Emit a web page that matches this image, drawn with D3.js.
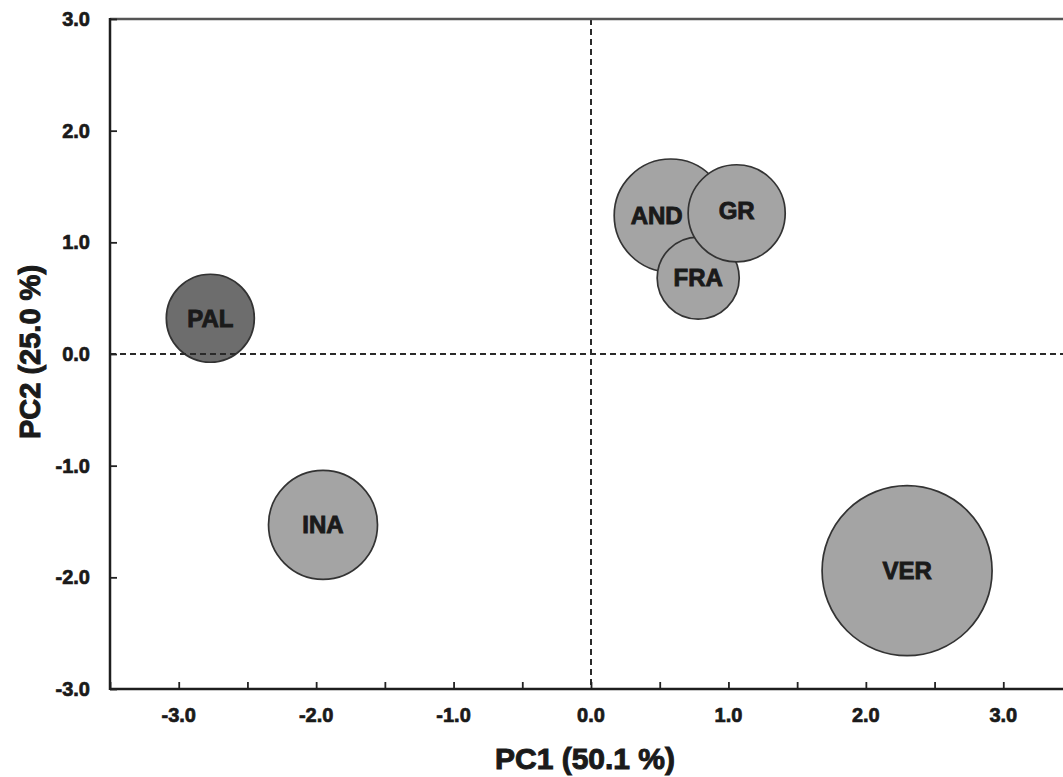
<!DOCTYPE html>
<html>
<head>
<meta charset="utf-8">
<script src="https://cdn.jsdelivr.net/npm/d3@7"></script>
<style>
  body { margin: 0; background: #fff; }
  text { font-family: "Liberation Sans", Arial, sans-serif; font-weight: bold; fill: #1a1a1a; stroke: #1a1a1a; }
</style>
</head>
<body>
<script>
// PCA scores, drawn in this order (AND under FRA under GR)
var groups = ["PAL", "INA", "AND", "FRA", "GR", "VER"]
var pc1 = [-2.77, -1.95, 0.58, 0.78, 1.06, 2.30]
var pc2 = [0.32, -1.53, 1.24, 0.68, 1.26, -1.94]
var sizes = [26.8, 41.1, 44.2, 23.3, 32.6, 100]
var fills = ["#6d6d6d", "#a4a4a4", "#a4a4a4", "#a4a4a4", "#a4a4a4", "#a4a4a4"]

var xTicks = [-3, -2, -1, 0, 1, 2, 3]
var xMinorTicks = [-3.5, -3, -2.5, -2, -1.5, -1, -0.5, 0, 0.5, 1, 1.5, 2, 2.5, 3, 3.5]
var yTicks = [-3, -2, -1, 0, 1, 2, 3]

var width = 1063, height = 777

var svg = d3.select("body")
            .append("svg")
            .attr("width", width)
            .attr("height", height)

var x = d3.scaleLinear().domain([-3.5, 3.5]).range([110, 1072])
var y = d3.scaleLinear().domain([-3, 3]).range([689, 19])
var r = d3.scaleSqrt().domain([0, 100]).range([0, 85])

var data = groups.map((g, i) => ({name: g, x: pc1[i], y: pc2[i], s: sizes[i], fill: fills[i]}))

// bubbles
svg.append("g").selectAll("circle")
   .data(data)
   .enter().append("circle")
   .attr("cx", d => x(d.x))
   .attr("cy", d => y(d.y))
   .attr("r", d => r(d.s))
   .attr("fill", d => d.fill)
   .attr("stroke", "#333")
   .attr("stroke-width", 1.7)

// zero lines
svg.append("line")
   .attr("x1", x(-3.5)).attr("x2", x(3.5))
   .attr("y1", y(0)).attr("y2", y(0))
   .attr("stroke", "#2a2a2a").attr("stroke-width", 2)
   .attr("stroke-dasharray", "6,4")
svg.append("line")
   .attr("x1", x(0)).attr("x2", x(0))
   .attr("y1", y(3)).attr("y2", y(-3))
   .attr("stroke", "#2a2a2a").attr("stroke-width", 2)
   .attr("stroke-dasharray", "6,4")

// labels (AND sits left of its centre, GR covers the right part)
svg.append("g").selectAll("text")
   .data(data)
   .enter().append("text")
   .attr("x", d => x(d.x) - (d.name == "AND" ? 14 : 0))
   .attr("y", d => y(d.y) + (d.name == "GR" ? -3 : 0))
   .attr("dy", "0.35em")
   .attr("text-anchor", "middle")
   .attr("font-size", 24)
   .attr("stroke-width", 0.9)
   .text(d => d.name)

// top frame line
svg.append("line")
   .attr("x1", x(-3.5)).attr("x2", x(3.5))
   .attr("y1", y(3)).attr("y2", y(3))
   .attr("stroke", "#555").attr("stroke-width", 2.5)

// x axis, ticks pointing inward
var xAxis = svg.append("g")
   .attr("transform", "translate(0," + y(-3) + ")")
   .call(d3.axisBottom(x).tickValues(xMinorTicks).tickSize(-7).tickFormat(""))
xAxis.select(".domain").remove()
xAxis.selectAll("line").attr("stroke", "#222").attr("stroke-width", 1.8)
svg.append("line")
   .attr("x1", x(-3.5)).attr("x2", x(3.5))
   .attr("y1", y(-3)).attr("y2", y(-3))
   .attr("stroke", "#1e1e1e").attr("stroke-width", 2.5)
svg.append("g").selectAll("text")
   .data(xTicks)
   .enter().append("text")
   .attr("x", d => x(d))
   .attr("y", y(-3) + 33)
   .attr("text-anchor", "middle")
   .attr("font-size", 20)
   .attr("stroke-width", 0.7)
   .text(d => d3.format(".1f")(d).replace("−", "-"))

// y axis
var yAxis = svg.append("g")
   .attr("transform", "translate(" + x(-3.5) + ",0)")
   .call(d3.axisLeft(y).tickValues(yTicks).tickSize(-7).tickFormat(""))
yAxis.select(".domain").remove()
yAxis.selectAll("line").attr("stroke", "#222").attr("stroke-width", 1.8)
svg.append("line")
   .attr("x1", x(-3.5)).attr("x2", x(-3.5))
   .attr("y1", y(3) - 1).attr("y2", y(-3) + 1)
   .attr("stroke", "#1e1e1e").attr("stroke-width", 2.5)
svg.append("g").selectAll("text")
   .data(yTicks)
   .enter().append("text")
   .attr("x", x(-3.5) - 20)
   .attr("y", d => y(d))
   .attr("dy", "0.35em")
   .attr("text-anchor", "end")
   .attr("font-size", 20)
   .attr("stroke-width", 0.7)
   .text(d => d3.format(".1f")(d).replace("−", "-"))

// axis titles
svg.append("text")
   .attr("x", 585)
   .attr("y", 769)
   .attr("text-anchor", "middle")
   .attr("font-size", 30)
   .attr("stroke-width", 1)
   .text("PC1 (50.1 %)")
svg.append("text")
   .attr("transform", "translate(40," + 352 + ") rotate(-90)")
   .attr("text-anchor", "middle")
   .attr("font-size", 29)
   .attr("stroke-width", 1)
   .text("PC2 (25.0 %)")
</script>
</body>
</html>
